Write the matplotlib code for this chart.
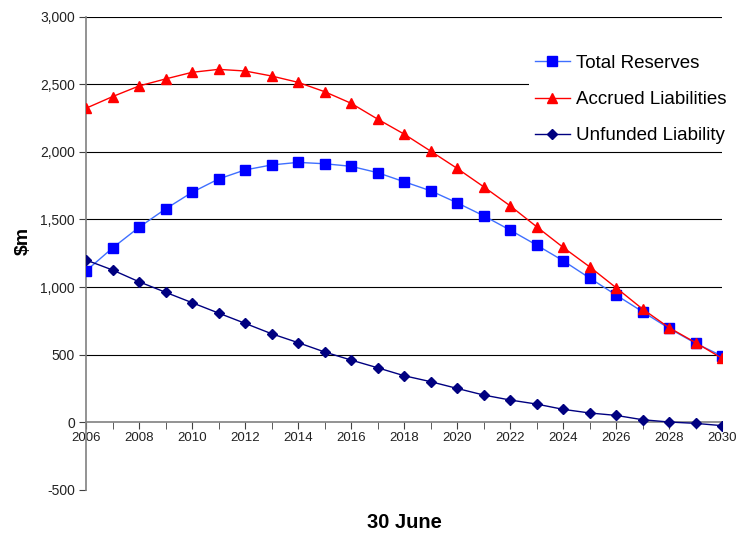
import numpy as np
import matplotlib
matplotlib.use('Agg')
import matplotlib.pyplot as plt
from matplotlib.ticker import FuncFormatter, MultipleLocator

plt.rcParams['font.family'] = ['Liberation Sans', 'DejaVu Sans']
plt.rcParams['axes.unicode_minus'] = False

years = np.arange(2006, 2031)

total_reserves = [1119, 1289, 1442, 1578, 1701, 1800, 1867, 1904, 1923, 1913,
                  1894, 1847, 1780, 1713, 1624, 1528, 1422, 1311, 1195, 1067,
                  941, 817, 694, 583, 489]
accrued_liabilities = [2324, 2410, 2489, 2541, 2590, 2612, 2600, 2563, 2516, 2447,
                       2361, 2244, 2133, 2007, 1879, 1743, 1602, 1447, 1294, 1150,
                       995, 837, 699, 588, 472]
unfunded_liability = [1200, 1126, 1039, 961, 884, 807, 731, 654, 588, 519,
                      459, 402, 343, 299, 249, 200, 163, 133, 94, 67,
                      49, 17, 0, -10, -27]

fig = plt.figure(figsize=(7.37, 5.34), dpi=100)
ax = fig.add_axes([0.1167, 0.0833, 0.863, 0.8849])

ax.plot(years, total_reserves, color='#3f6fff', lw=1.0, marker='s', ms=7,
        mfc='#0000ff', mec='#0000ff', label='Total Reserves', zorder=3)
ax.plot(years, accrued_liabilities, color='#ff0000', lw=1.0, marker='^', ms=7.5,
        mfc='#ff0000', mec='#ff0000', label='Accrued Liabilities', zorder=4)
ax.plot(years, unfunded_liability, color='#000080', lw=1.0, marker='D', ms=5,
        mfc='#000080', mec='#000080', label='Unfunded Liability', zorder=3)

ax.set_xlim(2006, 2030)
ax.set_ylim(-500, 3000)
ax.xaxis.set_major_locator(MultipleLocator(2))
ax.xaxis.set_minor_locator(MultipleLocator(1))
ax.yaxis.set_major_locator(MultipleLocator(500))
ax.yaxis.set_major_formatter(FuncFormatter(lambda v, p: '{:,.0f}'.format(v)))

ax.spines['top'].set_visible(False)
ax.spines['right'].set_visible(False)
ax.spines['bottom'].set_position(('data', 0))
ax.spines['bottom'].set_color('#808080')
ax.spines['left'].set_color('#808080')
ax.spines['bottom'].set_linewidth(1.2)
ax.spines['left'].set_linewidth(1.2)

ax.tick_params(axis='both', which='both', direction='out', color='#404040',
               labelcolor='#222222')
ax.tick_params(axis='x', which='major', length=5, pad=2, labelsize=9.5)
ax.tick_params(axis='x', which='minor', length=5)
ax.tick_params(axis='y', length=5, pad=3, labelsize=10)

# horizontal gridlines, none at the bottom (-500) level
for level in ax.get_yticks():
    if 0 < level <= 3000:
        ax.axhline(level, color='black', lw=0.8, zorder=0)

ax.set_ylabel(r'\$m', fontsize=14, fontweight='bold')
ax.yaxis.set_label_coords(-0.099, 0.526)
ax.yaxis.label.set_va('center')
ax.set_xlabel('30 June', fontsize=14.5, fontweight='bold')
ax.xaxis.set_label_coords(0.5, -0.069)
ax.xaxis.label.set_va('center')

leg = ax.legend(loc='upper left', bbox_to_anchor=(0.697, 0.932), fontsize=13.5,
                frameon=True, fancybox=False, framealpha=1, facecolor='white',
                edgecolor='none', labelspacing=1.02, handlelength=1.87,
                handletextpad=0.3, borderpad=0.3, borderaxespad=0)

fig.savefig('out.png', dpi=100)
